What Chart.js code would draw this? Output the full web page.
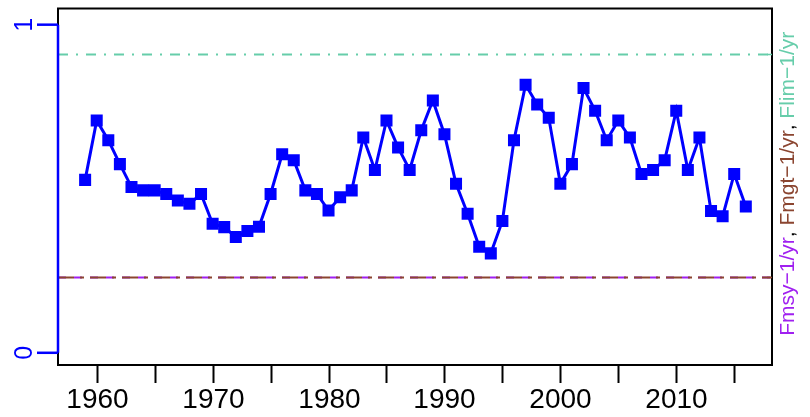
<!DOCTYPE html>
<html>
<head>
<meta charset="utf-8">
<script src="https://cdn.jsdelivr.net/npm/chart.js@4"></script>
<style>
  html, body { margin: 0; padding: 0; background: #fff; }
  #wrap { width: 810px; height: 417px; position: relative; }
</style>
</head>
<body>
<div id="wrap"><canvas id="fChart" width="810" height="417"></canvas></div>
<script>
// years and fishing mortality values
const years = [];
for (let y = 1959; y <= 2016; y++) years.push(y);
const fValues = [
  0.527, 0.708, 0.648, 0.575, 0.505, 0.495, 0.495, 0.484, 0.464, 0.454,
  0.484, 0.393, 0.383, 0.353, 0.371, 0.384, 0.484, 0.605, 0.587, 0.495,
  0.484, 0.434, 0.474, 0.495, 0.656, 0.557, 0.708, 0.626, 0.557, 0.678,
  0.769, 0.666, 0.515, 0.424, 0.323, 0.303, 0.402, 0.648, 0.817, 0.757,
  0.716, 0.515, 0.575, 0.807, 0.738, 0.648, 0.708, 0.656, 0.545, 0.557,
  0.587, 0.738, 0.557, 0.656, 0.432, 0.416, 0.545, 0.446
];

// reference points
const fmsy = 0.232;
const fmgt = 0.232;
const flim = 0.912;

// axis ticks
const xTicks = [1960, 1965, 1970, 1975, 1980, 1985, 1990, 1995, 2000, 2005, 2010, 2015];
const xLabels = ['1960', '', '1970', '', '1980', '', '1990', '', '2000', '', '2010', ''];
const yTicks = [0, 1];
const yLabels = ['0', '1'];

const FONT = '"Liberation Sans", Arial, sans-serif';
const BLUE = '#0000ff';
const GREEN = '#66cdaa';
const BROWN = '#8b4530';
const PURPLE = '#a020f0';

// axes, box, reference lines and right label drawn by hand, like R base graphics
const rAxes = {
  id: 'rAxes',
  beforeDatasetsDraw(chart) {
    const { ctx, chartArea: a, scales: { x, y } } = chart;
    ctx.save();
    // reference lines
    ctx.lineWidth = 2;
    let yy = Math.round(y.getPixelForValue(flim)) + 0.5;
    ctx.strokeStyle = GREEN;
    ctx.setLineDash([10, 8, 2, 8]);
    ctx.beginPath(); ctx.moveTo(a.left, yy); ctx.lineTo(a.right, yy); ctx.stroke();

    yy = Math.round(y.getPixelForValue(fmsy)) + 0.5;
    ctx.strokeStyle = PURPLE;
    ctx.setLineDash([8, 8]);
    ctx.beginPath(); ctx.moveTo(a.left, yy); ctx.lineTo(a.right, yy); ctx.stroke();

    yy = Math.round(y.getPixelForValue(fmgt)) + 0.5;
    ctx.strokeStyle = BROWN;
    ctx.setLineDash([16, 6, 4, 6]);
    ctx.beginPath(); ctx.moveTo(a.left, yy); ctx.lineTo(a.right, yy); ctx.stroke();
    ctx.restore();
  },
  afterDraw(chart) {
    const { ctx, chartArea: a, scales: { x, y } } = chart;
    ctx.save();
    // box
    ctx.strokeStyle = '#000';
    ctx.lineWidth = 2;
    ctx.strokeRect(a.left, a.top, a.right - a.left, a.bottom - a.top);

    // x ticks + labels
    ctx.fillStyle = '#000';
    ctx.font = '28px ' + FONT;
    ctx.textAlign = 'center';
    ctx.textBaseline = 'middle';
    xTicks.forEach((t, i) => {
      const px = Math.round(x.getPixelForValue(t)) + 0.5;
      ctx.beginPath(); ctx.moveTo(px, a.bottom); ctx.lineTo(px, a.bottom + 18); ctx.stroke();
      if (xLabels[i]) ctx.fillText(xLabels[i], px, a.bottom + 35);
    });

    // left blue axis
    ctx.strokeStyle = BLUE;
    ctx.fillStyle = BLUE;
    ctx.lineWidth = 2.5;
    const y0 = y.getPixelForValue(yTicks[0]);
    const y1 = y.getPixelForValue(yTicks[yTicks.length - 1]);
    ctx.beginPath(); ctx.moveTo(a.left, y0); ctx.lineTo(a.left, y1); ctx.stroke();
    ctx.font = '25px ' + FONT;
    yTicks.forEach((t, i) => {
      const py = y.getPixelForValue(t);
      ctx.beginPath(); ctx.moveTo(a.left, py); ctx.lineTo(a.left - 21, py); ctx.stroke();
      ctx.save();
      ctx.translate(a.left - 33, py);
      ctx.rotate(-Math.PI / 2);
      ctx.textAlign = 'center';
      ctx.textBaseline = 'middle';
      ctx.fillText(yLabels[i], 0, 0);
      ctx.restore();
    });

    // small right ticks at the reference points
    ctx.lineWidth = 1.5;
    [[flim, GREEN], [fmgt, BROWN]].forEach(([v, c]) => {
      const py = Math.round(y.getPixelForValue(v)) + 0.5;
      ctx.strokeStyle = c;
      ctx.beginPath(); ctx.moveTo(a.right - 5, py); ctx.lineTo(a.right, py); ctx.stroke();
    });

    // right rotated label, coloured parts
    const parts = [
      ['Fmsy\u22121/yr', PURPLE], [', ', '#000'],
      ['Fmgt\u22121/yr', BROWN], [', ', '#000'],
      ['Flim\u22121/yr', GREEN]
    ];
    ctx.font = '21px ' + FONT;
    const total = parts.reduce((s, p) => s + ctx.measureText(p[0]).width, 0);
    ctx.save();
    ctx.translate(a.right + 16, (a.top + a.bottom) / 2 - 3);
    ctx.rotate(-Math.PI / 2);
    ctx.textAlign = 'left';
    ctx.textBaseline = 'middle';
    let pos = -total / 2;
    parts.forEach(([txt, c]) => {
      ctx.fillStyle = c;
      ctx.fillText(txt, pos, 0);
      pos += ctx.measureText(txt).width;
    });
    ctx.restore();
    ctx.restore();
  }
};

new Chart(document.getElementById('fChart'), {
  type: 'line',
  data: {
    datasets: [{
      label: 'F',
      data: years.map((yr, i) => ({ x: yr, y: fValues[i] })),
      borderColor: BLUE,
      backgroundColor: BLUE,
      borderWidth: 3,
      pointStyle: 'rect',
      pointRadius: 8.5,
      pointBorderWidth: 0,
      tension: 0
    }]
  },
  options: {
    responsive: false,
    animation: false,
    events: [],
    layout: { padding: { left: 58, top: 6, right: 38, bottom: 52 } },
    plugins: { legend: { display: false }, tooltip: { enabled: false } },
    scales: {
      x: { type: 'linear', min: 1956.66, max: 2018.26, display: false },
      y: { type: 'linear', min: -0.0372, max: 1.0493, display: false }
    }
  },
  plugins: [rAxes]
});
</script>
</body>
</html>
